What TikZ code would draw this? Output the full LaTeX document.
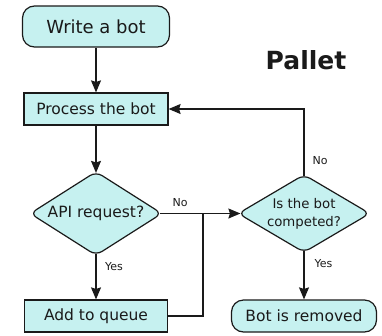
\documentclass[tikz,border=0pt]{standalone}
\usepackage{fontspec}
\setmainfont{DejaVu Sans}
\usetikzlibrary{shapes.geometric,arrows.meta}
\definecolor{boxfill}{RGB}{198,241,240}
\definecolor{ink}{RGB}{26,26,26}
\begin{document}
\begin{tikzpicture}[x=1pt,y=-1pt,
  every node/.style={text=ink},
  base/.style={draw=ink, line width=1.2pt, fill=boxfill, inner sep=0pt,
               font=\fontsize{15.5}{18}\selectfont},
  terminal/.style={base, rounded corners=12pt},
  process/.style={base},
  decision/.style={base, diamond, aspect=1.65, rounded corners=7pt},
  wire/.style={draw=ink, line width=1.2pt},
  flow/.style={wire, -{Stealth[length=12pt,width=10pt,inset=1.5pt]}},
  lbl/.style={font=\fontsize{11}{13}\selectfont, inner sep=0pt},
]
\useasboundingbox (0,0) rectangle (382,335);

% title
\node[font=\bfseries\fontsize{25}{30}\selectfont, anchor=base] (title) at (306,69.3) {Pallet};

% left column
\node[terminal, minimum width=147pt, minimum height=41pt,
      font=\fontsize{18}{21}\selectfont] (write) at (96,26.5) {Write a bot};
\node[process, minimum width=144pt, minimum height=32pt] (proc) at (96,109) {Process the bot};
\node[decision, minimum width=132pt, minimum height=84pt] (api) at (96,213.5) {API request?};
\node[process, minimum width=143pt, minimum height=32pt] (queue) at (96,316) {Add to queue};

% right column
\node[decision, minimum width=132pt, minimum height=78pt, align=center,
      font=\fontsize{13.3}{17.7}\selectfont] (done) at (304,213.5) {Is the bot\\competed?};
\node[terminal, minimum width=145pt, minimum height=32pt] (removed) at (304,316) {Bot is removed};

% connectors
\coordinate (jn) at (203,213.5);
\draw[flow] (write) -- (proc);
\draw[flow, shorten >=-2pt] (proc) -- (api);
\draw[flow, shorten <=-2pt] (api) -- (queue);
\draw[wire, shorten <=-3pt] (api.east) -- (jn);
\draw[flow, shorten >=-3pt] (queue.east) -| (jn) -- (done.west);
\draw[flow, shorten <=-2pt] (done.north) |- (proc.east);
\draw[flow, shorten <=-2pt] (done.south) -- (removed.north);

% branch labels
\node[lbl] (no1) at (180,203) {No};
\node[lbl] (yes1) at (114,267) {Yes};
\node[lbl] (no2) at (320,160.5) {No};
\node[lbl] (yes2) at (323.5,264) {Yes};
\end{tikzpicture}
\end{document}
